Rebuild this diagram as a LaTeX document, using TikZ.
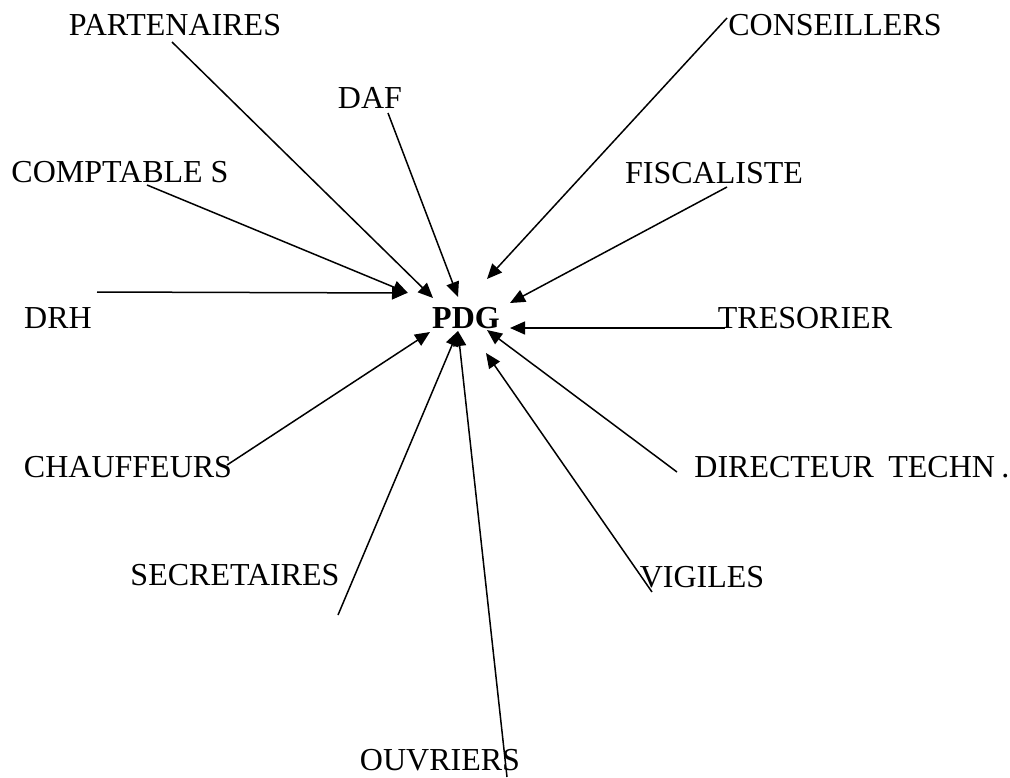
\documentclass[tikz,border=0pt]{standalone}
\usepackage{fontspec}
\setmainfont{Liberation Serif}
\usepackage{tikz}
\usetikzlibrary{arrows.meta}

\begin{document}
\begin{tikzpicture}[x=0.5pt, y=-0.5pt,
  every node/.style={font=\fontsize{16}{19}\selectfont, inner sep=0pt, anchor=base},
  arrow/.style={-{Triangle[length=7.5pt, width=6.5pt]}, line width=0.75pt}]
  \useasboundingbox (0,0) rectangle (1010,777);
  \node[font=\fontsize{16}{19}\selectfont\bfseries] (pdg) at (466,328) {PDG};
  \node (part) at (175,35) {PARTENAIRES};
  \node (daf) at (370,108) {DAF};
  \node (compta) at (120,182) {COMPTABLE S};
  \node (drh) at (58,328) {DRH};
  \node (chauf) at (128,477) {CHAUFFEURS};
  \node (secr) at (235,585) {SECRETAIRES};
  \node (ouvr) at (440,770) {OUVRIERS};
  \node (cons) at (835,35) {CONSEILLERS};
  \node (fisc) at (714,183) {FISCALISTE};
  \node (tres) at (805,328) {TRESORIER};
  \node[anchor=base west] (dir) at (694,477) {DIRECTEUR\hspace{0.45em}TECHN\hspace{0.2em}.};
  \node (vig) at (702,587) {VIGILES};
  % free ends of the connectors
  \coordinate (partS) at (172,42);   \coordinate (partT) at (433,298);
  \coordinate (dafS) at (388,113);   \coordinate (dafT) at (458,297);
  \coordinate (comptaS) at (147,185); \coordinate (comptaT) at (408,293);
  \coordinate (drhS) at (97,292);    \coordinate (drhT) at (407,293);
  \coordinate (consS) at (727,18);   \coordinate (consT) at (487,279);
  \coordinate (fiscS) at (727,187);  \coordinate (fiscT) at (510,303);
  \coordinate (tresS) at (725,328);  \coordinate (tresT) at (510,328);
  \coordinate (dirS) at (677,472);   \coordinate (dirT) at (487,330);
  \coordinate (vigS) at (652,592);   \coordinate (vigT) at (486,353);
  \coordinate (chaufS) at (227,465); \coordinate (chaufT) at (430,332);
  \coordinate (secrS) at (338,615);  \coordinate (secrT) at (458,331);
  \coordinate (ouvrS) at (507,777);  \coordinate (ouvrT) at (458,331);
  \draw[arrow] (partS) -- (partT);
  \draw[arrow] (dafS) -- (dafT);
  \draw[arrow] (comptaS) -- (comptaT);
  \draw[arrow] (drhS) -- (drhT);
  \draw[arrow] (consS) -- (consT);
  \draw[arrow] (fiscS) -- (fiscT);
  \draw[arrow] (tresS) -- (tresT);
  \draw[arrow] (dirS) -- (dirT);
  \draw[arrow] (vigS) -- (vigT);
  \draw[arrow] (chaufS) -- (chaufT);
  \draw[arrow] (secrS) -- (secrT);
  \draw[arrow] (ouvrS) -- (ouvrT);
\end{tikzpicture}
\end{document}
